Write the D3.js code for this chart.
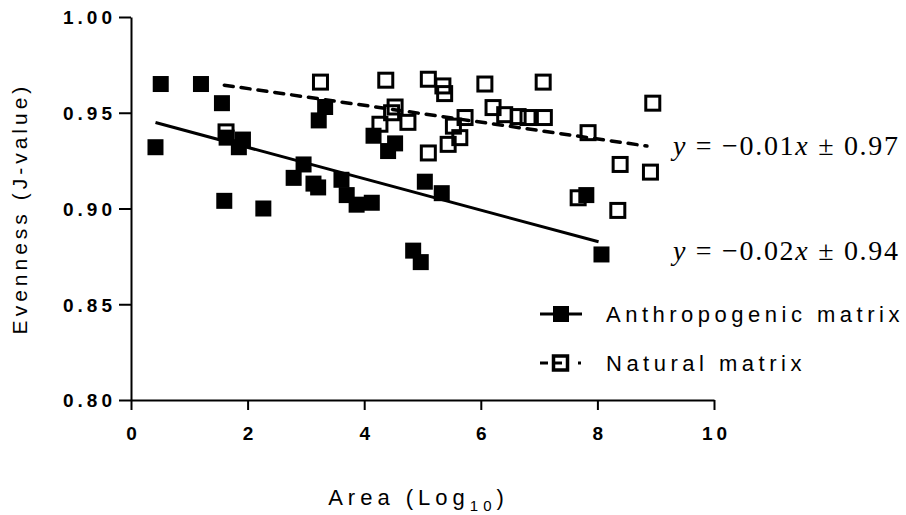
<!DOCTYPE html>
<html>
<head>
<meta charset="utf-8">
<script src="https://cdn.jsdelivr.net/npm/d3@7/dist/d3.min.js"></script>
<style>
  body { margin: 0; background: #fff; }
  text { font-family: "Liberation Sans", Arial, sans-serif; }
</style>
</head>
<body>
<div id="chart"></div>
<script>
// data
var anthroX = [0.42, 0.51, 1.20, 1.56, 1.60, 1.64, 1.85, 1.92, 2.27, 2.79, 2.96, 3.13, 3.21, 3.22, 3.33,
               3.61, 3.70, 3.87, 4.13, 4.16, 4.41, 4.53, 4.84, 4.97, 5.04, 5.33, 7.81, 8.07];
var anthroY = [0.932, 0.965, 0.965, 0.955, 0.904, 0.937, 0.932, 0.936, 0.900, 0.916, 0.923, 0.913, 0.911, 0.946, 0.953,
               0.915, 0.907, 0.902, 0.903, 0.938, 0.930, 0.934, 0.878, 0.872, 0.914, 0.908, 0.907, 0.876];

var naturalX = [1.63, 3.25, 4.27, 4.37, 4.47, 4.53, 4.75, 5.10, 5.10, 5.35, 5.38, 5.44, 5.53, 5.64,
                5.73, 6.07, 6.21, 6.41, 6.64, 6.81, 7.07, 7.09, 7.67, 7.84, 8.35, 8.39, 8.91, 8.95];
var naturalY = [0.940, 0.966, 0.944, 0.967, 0.950, 0.953, 0.945, 0.9675, 0.929, 0.964, 0.960, 0.9335, 0.943, 0.937,
                0.9475, 0.965, 0.9527, 0.949, 0.948, 0.9475, 0.966, 0.9475, 0.9056, 0.9396, 0.899, 0.923, 0.919, 0.955];

// fitted lines (end points)
var anthroFitX = [0.42, 8.02];
var anthroFitY = [0.9449, 0.8826];
var naturalFitX = [1.6, 8.85];
var naturalFitY = [0.9644, 0.9326];

var xTicks = [0, 2, 4, 6, 8, 10];
var yTicks = [0.80, 0.85, 0.90, 0.95, 1.00];

var seriesNames = ["Anthropogenic matrix", "Natural matrix"];
var equations = [["\u22120.01", "0.97"], ["\u22120.02", "0.94"]];

var margin = { top: 17, right: 192, bottom: 115, left: 131 },
    width = 906 - margin.left - margin.right,
    height = 515 - margin.top - margin.bottom;

var svg = d3.select("#chart")
    .append("svg")
    .attr("width", 906)
    .attr("height", 515);
var inner = svg.append("g")
    .attr("transform", "translate(" + margin.left + "," + margin.top + ")");

var x = d3.scaleLinear().domain([0, 10]).range([0, width]);
var y = d3.scaleLinear().domain([0.80, 1.00]).range([height, 0]);

// axes
var xAxis = inner.append("g")
    .attr("transform", "translate(0," + height + ")")
    .call(d3.axisBottom(x).tickValues(xTicks).tickSize(10).tickSizeOuter(0).tickPadding(17));
var yAxis = inner.append("g")
    .call(d3.axisLeft(y).tickValues(yTicks).tickFormat(d3.format(".2f")).tickSize(12).tickSizeOuter(0).tickPadding(3));

[xAxis, yAxis].forEach(function (ax) {
    ax.selectAll("path, line").style("stroke", "#000").style("stroke-width", 2);
    ax.selectAll("text")
        .style("font-family", "'Liberation Sans', Arial, sans-serif")
        .style("font-size", "19px")
        .style("font-weight", "bold")
        .style("letter-spacing", "4px")
        .style("fill", "#000");
});
yAxis.selectAll("text").attr("dy", "0.36em");
xAxis.selectAll("text").attr("dx", "2px");

// axis labels
var xl = svg.append("text")
    .attr("x", margin.left + x(5) - 4)
    .attr("y", 505)
    .attr("text-anchor", "middle")
    .style("font-size", "22px")
    .style("letter-spacing", "5px");
xl.append("tspan").text("Area (Log");
xl.append("tspan").text("10").style("font-size", "15px").attr("dy", "6");
xl.append("tspan").text(")").attr("dy", "-6");

svg.append("text")
    .attr("transform", "translate(27," + (margin.top + y(0.90)) + ") rotate(-90)")
    .attr("text-anchor", "middle")
    .style("font-size", "21px")
    .style("letter-spacing", "4px")
    .text("Evenness (J-value)");

// fit lines
var line = d3.line()
    .x(function (d) { return x(d[0]); })
    .y(function (d) { return y(d[1]); });

inner.append("path")
    .datum(d3.zip(anthroFitX, anthroFitY))
    .attr("d", line)
    .attr("fill", "none")
    .attr("stroke", "#000")
    .attr("stroke-width", 3);

inner.append("path")
    .datum(d3.zip(naturalFitX, naturalFitY))
    .attr("d", line)
    .attr("fill", "none")
    .attr("stroke", "#000")
    .attr("stroke-width", 3.5)
    .attr("stroke-dasharray", "9,8")
    .attr("stroke-linecap", "round");

// points
var fs = 16, os = 14;
inner.selectAll(".anthro")
    .data(d3.zip(anthroX, anthroY))
    .enter()
    .append("rect")
    .attr("class", "anthro")
    .attr("x", function (d) { return x(d[0]) - fs / 2; })
    .attr("y", function (d) { return y(d[1]) - fs / 2; })
    .attr("width", fs)
    .attr("height", fs)
    .attr("fill", "#000");

inner.selectAll(".natural")
    .data(d3.zip(naturalX, naturalY))
    .enter()
    .append("rect")
    .attr("class", "natural")
    .attr("x", function (d) { return x(d[0]) - os / 2; })
    .attr("y", function (d) { return y(d[1]) - os / 2; })
    .attr("width", os)
    .attr("height", os)
    .attr("fill", "none")
    .attr("stroke", "#000")
    .attr("stroke-width", 3);

// equations
var eqPos = [[673, 155], [673, 260]];
equations.forEach(function (eq, i) {
    var t = svg.append("text")
        .attr("x", eqPos[i][0])
        .attr("y", eqPos[i][1])
        .attr("textLength", 225)
        .attr("lengthAdjust", "spacing")
        .style("font-family", "'Liberation Serif', 'Times New Roman', serif")
        .style("font-size", "28px");
    t.append("tspan").text("y").style("font-style", "italic");
    t.append("tspan").text(" = " + eq[0]);
    t.append("tspan").text("x").style("font-style", "italic");
    t.append("tspan").text(" \u00b1 " + eq[1]);
});

// legend
var legend = svg.selectAll(".legend")
    .data(seriesNames)
    .enter()
    .append("g")
    .attr("class", "legend")
    .attr("transform", function (d, i) { return "translate(540," + (314 + i * 49) + ")"; });

legend.filter(function (d, i) { return i === 0; })
    .append("line")
    .attr("x1", 0).attr("x2", 42)
    .attr("stroke", "#000").attr("stroke-width", 3);
legend.filter(function (d, i) { return i === 0; })
    .append("rect")
    .attr("x", 13).attr("y", -8).attr("width", 16).attr("height", 16)
    .attr("fill", "#000");

legend.filter(function (d, i) { return i === 1; })
    .append("line")
    .attr("x1", 0).attr("x2", 42)
    .attr("stroke", "#000").attr("stroke-width", 3)
    .attr("stroke-dasharray", "8,30,3,10");
legend.filter(function (d, i) { return i === 1; })
    .append("rect")
    .attr("x", 13.5).attr("y", -7).attr("width", 14).attr("height", 14)
    .attr("fill", "#fff").attr("stroke", "#000").attr("stroke-width", 3.5);
legend.filter(function (d, i) { return i === 1; })
    .append("line")
    .attr("x1", 15).attr("x2", 22)
    .attr("stroke", "#000").attr("stroke-width", 3);

legend.append("text")
    .attr("x", 66)
    .attr("y", 0)
    .attr("dy", "0.36em")
    .style("font-size", "22px")
    .style("letter-spacing", "4.5px")
    .text(function (d) { return d; });
</script>
</body>
</html>
